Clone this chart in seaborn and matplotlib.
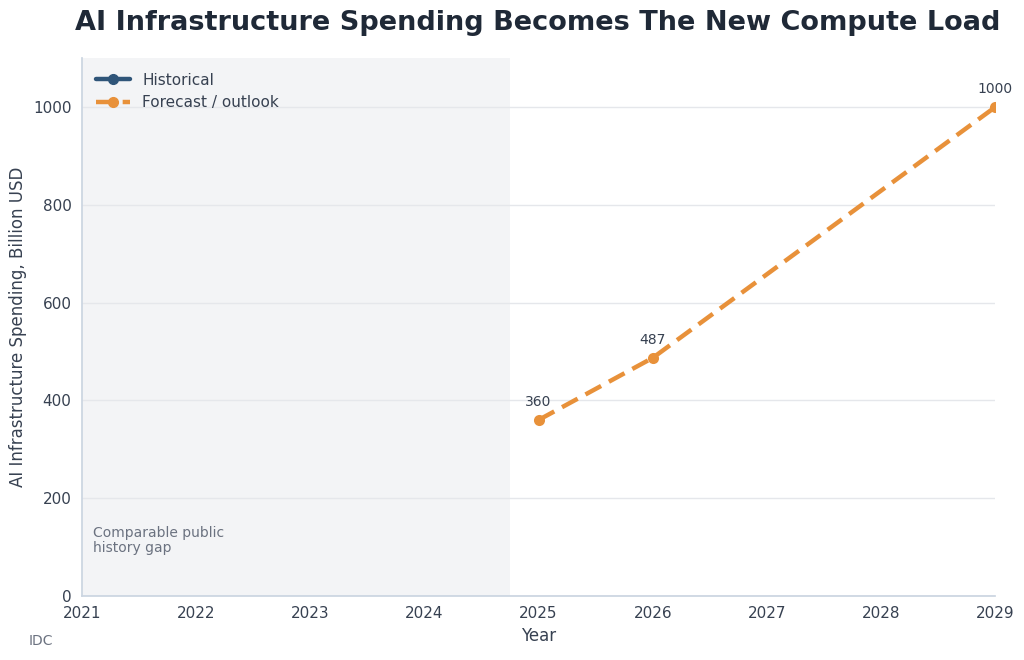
import numpy as np
import pandas as pd
import matplotlib.pyplot as plt
import seaborn as sns
from matplotlib.lines import Line2D

# data
hist_years = []
hist_values = []
fc_years = [2025, 2026, 2029]
fc_values = [360, 487, 1000]
x_ticks = [2021, 2022, 2023, 2024, 2025, 2026, 2027, 2028, 2029]

HIST_COLOR = "#2f5579"
FC_COLOR = "#e8913a"
TEXT = "#1f2937"

sns.set_theme(style="white")
plt.rcParams['font.family'] = ['DejaVu Sans']

fig, ax = plt.subplots(figsize=(10.24, 6.6), dpi=100)

fc = pd.DataFrame({"year": fc_years, "value": fc_values})
sns.lineplot(data=fc, x="year", y="value", ax=ax, color=FC_COLOR, lw=3.2,
             linestyle=(0, (4, 2)), marker="o", markersize=8,
             markeredgewidth=0, legend=False)

for x, y in zip(fc_years, fc_values):
    ax.annotate(f"{y}", (x, y), xytext=(0, 8), textcoords="offset points",
                ha="center", va="bottom", fontsize=10, color="#374151")

ax.axvspan(2021, 2024.75, color="#f3f4f6", zorder=0, lw=0)
ax.text(2021.1, 114, "Comparable public\nhistory gap", fontsize=10,
        color="#6b7280", va="center", ha="left", linespacing=1.05)

ax.set_xlim(2021, 2029)
ax.set_ylim(0, 1100)
ax.set_xticks(x_ticks)
ax.set_xticklabels([str(t) for t in x_ticks])
ax.set_yticks([0, 200, 400, 600, 800, 1000])
ax.yaxis.grid(True, color="#e5e7eb", lw=1)
ax.set_axisbelow(True)
ax.tick_params(axis="both", labelsize=11, colors="#374151", length=4,
               color="#9ca3af")
for s in ["top", "right"]:
    ax.spines[s].set_visible(False)
for s in ["left", "bottom"]:
    ax.spines[s].set_color("#cbd5e1")

ax.set_xlabel("Year", fontsize=12, color="#374151", labelpad=4)
ax.set_ylabel("AI Infrastructure Spending, Billion USD", fontsize=12,
              color="#374151")

handles = [
    Line2D([0], [0], color=HIST_COLOR, lw=3.2, marker="o", markersize=7),
    Line2D([0], [0], color=FC_COLOR, lw=3.2, linestyle=(0, (4, 2)),
           marker="o", markersize=7),
]
leg = ax.legend(handles, ["Historical", "Forecast / outlook"], loc="upper left",
                frameon=False, fontsize=11, handlelength=2.2,
                borderaxespad=0.55, labelspacing=0.5)
for t in leg.get_texts():
    t.set_color("#374151")

fig.suptitle("AI Infrastructure Spending Becomes The New Compute Load",
             fontsize=19.5, fontweight="bold", color=TEXT, x=0.525, y=0.985)
fig.text(0.028, 0.022, "IDC", fontsize=10, color="#6b7280")

plt.subplots_adjust(left=0.08, right=0.972, top=0.912, bottom=0.097)
plt.savefig("out.png", dpi=100)
